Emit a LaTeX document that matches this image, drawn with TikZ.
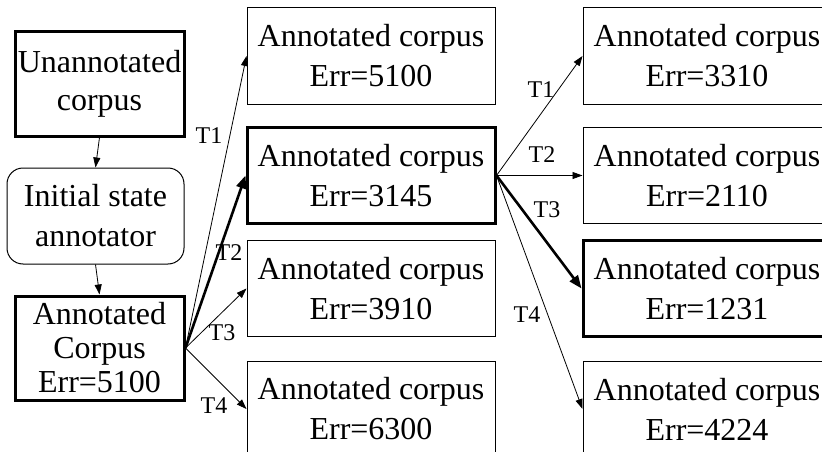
\documentclass[tikz,border=0pt]{standalone}
\usepackage{fontspec}
\setmainfont{Liberation Serif}
\usetikzlibrary{arrows.meta}
\tikzset{box/.style={draw,line width=1pt,inner sep=0pt,minimum width=248pt,minimum height=96pt,
 align=center,font=\fontsize{32}{40}\selectfont},
 bestbox/.style={line width=3pt},
 trans/.style={-{Triangle[length=10pt,width=7pt]},line width=.8pt},
 besttrans/.style={-{Triangle[length=13pt,width=10pt]},line width=2.6pt},
 tlabel/.style={font=\fontsize{24}{24}\selectfont,inner sep=0pt}}
\begin{document}
\begin{tikzpicture}[x=1pt,y=-1pt]
\useasboundingbox (0,0) rectangle (822,452);
% initial annotation
\node[box,bestbox,minimum width=169pt,minimum height=104pt,font=\fontsize{32}{38}\selectfont] (raw) at (99.5,84) {Unannotated\\corpus};
\node[box,rounded corners=16pt,minimum width=177pt] (init) at (95.5,216) {Initial state\\annotator};
\node[box,bestbox,minimum width=169pt,minimum height=104pt,font=\fontsize{32}{34}\selectfont] (start) at (99.5,348) {Annotated\\Corpus\\Err=5100};
\draw[trans] (raw.south)--(init.north);
\draw[trans] (init.south)--(start.north);
% first step
\node[box] (a1) at (371,56) {Annotated corpus\\Err=5100};
\node[box,bestbox] (a2) at (371,175.5) {Annotated corpus\\Err=3145};
\node[box] (a3) at (371,288.5) {Annotated corpus\\Err=3910};
\node[box] (a4) at (371,409) {Annotated corpus\\Err=6300};
\draw[trans] (start.east)--(a1.west);
\draw[besttrans] (start.east)--(a2.west);
\draw[trans] (start.east)--(a3.west);
\draw[trans] (start.east)--(a4.west);
\node[tlabel] (ta1) at (209,136) {T1};
\node[tlabel] (ta2) at (229,253) {T2};
\node[tlabel] (ta3) at (222,333) {T3};
\node[tlabel] (ta4) at (214,406) {T4};
% second step
\node[box] (b1) at (707,56) {Annotated corpus\\Err=3310};
\node[box] (b2) at (707,175.5) {Annotated corpus\\Err=2110};
\node[box,bestbox] (b3) at (707,288.5) {Annotated corpus\\Err=1231};
\node[box] (b4) at (707,409) {Annotated corpus\\Err=4224};
\draw[trans] (a2.east)--(b1.west);
\draw[trans] (a2.east)--(b2.west);
\draw[besttrans] (a2.east)--(b3.west);
\draw[trans] (a2.east)--(b4.west);
\node[tlabel] (tb1) at (541,90) {T1};
\node[tlabel] (tb2) at (542,155) {T2};
\node[tlabel] (tb3) at (547,210) {T3};
\node[tlabel] (tb4) at (527,315) {T4};
\end{tikzpicture}
\end{document}
